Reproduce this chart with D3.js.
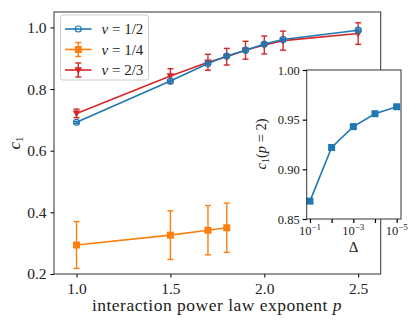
<!DOCTYPE html>
<html>
<head>
<meta charset="utf-8">
<script src="https://cdn.jsdelivr.net/npm/d3@7"></script>
<style>
  body { margin: 0; background: #fff; }
  svg { display: block; }
</style>
</head>
<body>
<svg id="chart" width="416" height="323" font-family="Liberation Serif, serif"></svg>
<script>
"use strict";

// main panel data
var pValues = [1.0, 1.5, 1.7, 1.8, 1.9, 2.0, 2.1, 2.5];
var cHalf = [0.692, 0.826, 0.883, 0.907, 0.926, 0.946, 0.961, 0.991];
var errHalf = [0.003, 0.003, 0.003, 0.003, 0.003, 0.003, 0.003, 0.003];
var cTwoThirds = [0.721, 0.842, 0.887, 0.905, 0.926, 0.943, 0.957, 0.980];
var errTwoThirds = [0.014, 0.024, 0.026, 0.027, 0.029, 0.029, 0.031, 0.035];
var pQuarter = [1.0, 1.5, 1.7, 1.8];
var cQuarter = [0.294, 0.326, 0.342, 0.350];
var errQuarter = [0.076, 0.079, 0.080, 0.080];

var xTicks = [1.0, 1.5, 2.0, 2.5];
var yTicks = [0.2, 0.4, 0.6, 0.8, 1.0];
var legendLabels = ["1/2", "1/4", "2/3"];

// inset data
var deltas = [1e-1, 1e-2, 1e-3, 1e-4, 1e-5];
var cAtP2 = [0.868, 0.922, 0.943, 0.956, 0.963];
var errAtP2 = [0.002, 0.002, 0.002, 0.002, 0.002];
var insetYTicks = [0.85, 0.90, 0.95, 1.00];
var insetXLabels = [-1, -3, -5];

var blue = "#1f77b4", orange = "#ff7f0e", red = "#d62728";
var serif = "Liberation Serif, serif";

var svg = d3.select("#chart");

var x = d3.scaleLinear().domain([0.88, 2.62]).range([54, 380.7]);
var y = d3.scaleLinear().domain([0.2, 1.05]).range([274, 12]);

function zip(xs, ys, es) {
  return xs.map(function (v, i) { return { x: v, y: ys[i], e: es[i] }; });
}

function drawSeries(g, data, sx, sy, color, marker) {
  var line = d3.line().x(function (d) { return sx(d.x); }).y(function (d) { return sy(d.y); });
  g.append("path").datum(data).attr("d", line)
    .attr("fill", "none").attr("stroke", color).attr("stroke-width", 1.6);
  var bars = g.append("g").attr("stroke", color).attr("stroke-width", 1.4);
  data.forEach(function (d) {
    var cx = sx(d.x), y0 = sy(d.y - d.e), y1 = sy(d.y + d.e);
    bars.append("line").attr("x1", cx).attr("x2", cx).attr("y1", y0).attr("y2", y1);
    bars.append("line").attr("x1", cx - 3).attr("x2", cx + 3).attr("y1", y0).attr("y2", y0);
    bars.append("line").attr("x1", cx - 3).attr("x2", cx + 3).attr("y1", y1).attr("y2", y1);
  });
  data.forEach(function (d) {
    drawMarker(g, sx(d.x), sy(d.y), color, marker);
  });
}

function drawMarker(g, cx, cy, color, marker) {
  if (marker === "circle") {
    g.append("circle").attr("cx", cx).attr("cy", cy).attr("r", 3)
      .attr("fill", "none").attr("stroke", color).attr("stroke-width", 1.2);
  } else if (marker === "square") {
    g.append("rect").attr("x", cx - 3.5).attr("y", cy - 3.5).attr("width", 7).attr("height", 7)
      .attr("fill", color);
  } else if (marker === "tri") {
    g.append("path").attr("d", "M" + (cx - 3.8) + "," + (cy - 2.8) + "L" + (cx + 3.8) + "," + (cy - 2.8) + "L" + cx + "," + (cy + 4) + "Z")
      .attr("fill", color);
  }
}

// main axes
var main = svg.append("g");
drawSeries(main, zip(pValues, cTwoThirds, errTwoThirds), x, y, red, "tri");
drawSeries(main, zip(pQuarter, cQuarter, errQuarter), x, y, orange, "square");
drawSeries(main, zip(pValues, cHalf, errHalf), x, y, blue, "circle");

main.append("rect").attr("x", 54).attr("y", 12).attr("width", 380.7 - 54).attr("height", 274 - 12)
  .attr("fill", "none").attr("stroke", "#333").attr("stroke-width", 1);

var xAxis = main.append("g").attr("transform", "translate(0,274)")
  .call(d3.axisBottom(x).tickValues(xTicks).tickFormat(d3.format(".1f")).tickSize(3.5).tickPadding(5));
var yAxis = main.append("g").attr("transform", "translate(54,0)")
  .call(d3.axisLeft(y).tickValues(yTicks).tickFormat(d3.format(".1f")).tickSize(3.5).tickPadding(4));
[xAxis, yAxis].forEach(function (a) {
  a.attr("font-family", serif);
  a.select(".domain").remove();
  a.selectAll("text").attr("font-family", serif).attr("font-size", 15.5).attr("fill", "#222");
  a.selectAll("line").attr("stroke", "#000").attr("stroke-width", 1);
});

svg.append("text").attr("x", 217).attr("y", 311).attr("text-anchor", "middle")
  .attr("font-family", serif).attr("font-size", 17.5).attr("letter-spacing", 0.5).attr("fill", "#222")
  .html('interaction power law exponent <tspan font-style="italic">p</tspan>');
svg.append("text").attr("transform", "translate(20,143) rotate(-90)").attr("text-anchor", "middle")
  .attr("font-family", serif).attr("font-size", 17).attr("fill", "#222")
  .html('<tspan font-style="italic">c</tspan><tspan font-size="11" dy="3">1</tspan>');

// legend
var legend = svg.append("g");
legend.append("rect").attr("x", 60.5).attr("y", 15).attr("width", 88).attr("height", 65).attr("rx", 2.5)
  .attr("fill", "#fff").attr("fill-opacity", 0.8).attr("stroke", "#ccc").attr("stroke-width", 1);
var legendColors = [blue, orange, red];
var legendMarkers = ["circle", "square", "tri"];
legendLabels.forEach(function (lab, i) {
  var ly = 29 + i * 20.5;
  var c = legendColors[i];
  legend.append("line").attr("x1", 65).attr("x2", 91.5).attr("y1", ly).attr("y2", ly)
    .attr("stroke", c).attr("stroke-width", 1.6);
  if (i > 0) {
    legend.append("line").attr("x1", 78.3).attr("x2", 78.3).attr("y1", ly - 7).attr("y2", ly + 7).attr("stroke", c).attr("stroke-width", 1.4);
    legend.append("line").attr("x1", 75.3).attr("x2", 81.3).attr("y1", ly - 7).attr("y2", ly - 7).attr("stroke", c).attr("stroke-width", 1.4);
    legend.append("line").attr("x1", 75.3).attr("x2", 81.3).attr("y1", ly + 7).attr("y2", ly + 7).attr("stroke", c).attr("stroke-width", 1.4);
  }
  drawMarker(legend, 78.3, ly, c, legendMarkers[i]);
  legend.append("text").attr("x", 101.5).attr("y", ly + 5).attr("font-family", serif).attr("font-size", 15).attr("fill", "#222")
    .html('<tspan font-style="italic">ν</tspan> = ' + lab);
});

// inset
var xi = d3.scaleLog().domain([Math.pow(10, -0.85), Math.pow(10, -5.2)]).range([306.7, 401]);
var yi = d3.scaleLinear().domain([0.85, 1.0]).range([219, 70]);
var inset = svg.append("g");
inset.append("rect").attr("x", 306.7).attr("y", 70).attr("width", 401 - 306.7).attr("height", 149)
  .attr("fill", "#fff");
drawSeries(inset, zip(deltas, cAtP2, errAtP2), xi, yi, blue, "square");
inset.append("rect").attr("x", 306.7).attr("y", 70).attr("width", 401 - 306.7).attr("height", 149)
  .attr("fill", "none").attr("stroke", "#333").attr("stroke-width", 1);

var ixAxis = inset.append("g").attr("transform", "translate(0,219)")
  .call(d3.axisBottom(xi).tickValues(deltas).tickFormat("").tickSize(4));
var iyAxis = inset.append("g").attr("transform", "translate(306.7,0)")
  .call(d3.axisLeft(yi).tickValues(insetYTicks).tickFormat(d3.format(".2f")).tickSize(4).tickPadding(3));
[ixAxis, iyAxis].forEach(function (a) {
  a.attr("font-family", serif);
  a.select(".domain").remove();
  a.selectAll("line").attr("stroke", "#000").attr("stroke-width", 1.2);
  a.selectAll("text").attr("font-family", serif).attr("font-size", 12.5).attr("fill", "#222");
});
insetXLabels.forEach(function (e) {
  inset.append("text").attr("x", xi(Math.pow(10, e))).attr("y", 235).attr("text-anchor", "middle")
    .attr("font-family", serif).attr("font-size", 12.5).attr("fill", "#222")
    .html('10<tspan font-size="9" dy="-5">−' + Math.abs(e) + '</tspan>');
});
svg.append("text").attr("x", 353.5).attr("y", 252).attr("text-anchor", "middle")
  .attr("font-family", serif).attr("font-size", 15).attr("fill", "#222").text("Δ");
svg.append("text").attr("transform", "translate(266,144) rotate(-90)").attr("text-anchor", "middle")
  .attr("font-family", serif).attr("font-size", 14.5).attr("fill", "#222")
  .html('<tspan font-style="italic">c</tspan><tspan font-size="10" dy="3">1</tspan><tspan dy="-3">(</tspan><tspan font-style="italic">p</tspan> = 2)');
</script>
</body>
</html>
